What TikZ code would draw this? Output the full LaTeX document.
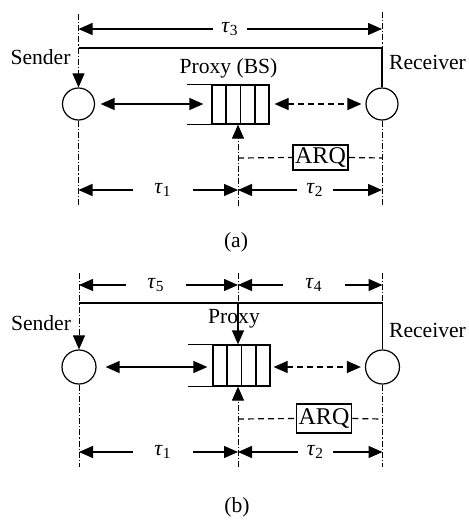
\documentclass[tikz,border=0pt]{standalone}
\usepackage{fontspec}
\setmainfont{Liberation Serif}
\usetikzlibrary{arrows.meta,calc}
\newcommand\tauv[1]{\textit{τ}\textsubscript{#1}}
\tikzset{
  guide/.style={line width=0.5pt, dash pattern=on 3pt off 1pt on 0.6pt off 1pt},
  ln/.style={line width=0.65pt},
  tip/.style={-{Triangle[length=7pt,width=6pt]}},
  dtip/.style={{Triangle[length=7pt,width=6pt]}-{Triangle[length=7pt,width=6pt]}},
  dsh/.style={line width=0.6pt, dash pattern=on 3pt off 2pt},
  station/.style={circle,draw,line width=0.6pt,minimum size=16pt,inner sep=0pt},
  qbox/.style={draw,line width=0.6pt,minimum width=28.5pt,inner sep=0pt},
  dimlab/.style={inner sep=0pt,font=\fontsize{11}{12}\selectfont},
  lab/.style={inner sep=0pt,font=\fontsize{10.8}{12}\selectfont},
  arqbox/.style={draw,line width=0.8pt,minimum width=27.5pt,inner sep=0pt,font=\fontsize{12}{13}\selectfont},
}
\begin{document}
\begin{tikzpicture}[x=0.5pt,y=-0.5pt]
\useasboundingbox (0,0) rectangle (468,520);
% ================= panel (a) =================
\coordinate (as) at (78.5,0);
\coordinate (am) at (238,0);
\coordinate (ar) at (382,0);
\coordinate (asTop) at (78.5,14);
\coordinate (arTop) at (382,12);
\coordinate (asH) at (78.5,48);
\coordinate (arH) at (382,48);
\coordinate (asB) at (78.5,206);
\coordinate (amB) at (238,206);
\coordinate (arB) at (382,206);
\coordinate (aJ) at (238,158);
\coordinate (aK) at (382,158);

\node[station] (S1) at (78.5,104) {};
\node[station] (R1) at (382,104) {};
\node[qbox,minimum height=19.5pt] (Q1) at (240.5,104.5) {};
\draw[ln] (Q1.north west) -- ++(-24,0);
\draw[ln] (Q1.south west) -- ++(-24,0);
\foreach \f in {0.25,0.5,0.75}{\draw[ln] ($(Q1.north west)!\f!(Q1.north east)$) -- ($(Q1.south west)!\f!(Q1.south east)$);}

\node[lab] (sendA) at (40.5,57) {Sender};
\node[lab] (recvA) at (427.5,62) {Receiver};
\node[lab] (proxA) at (228.5,68) {Proxy (BS)};

% guides
\draw[guide,tip] (asTop) -- (S1.north);
\draw[guide] (arTop) -- (arH);
\draw[ln] (arH) -- (R1.north);
\draw[ln] (asH) -- (arH);
\draw[guide] (S1.south) -- (asB);
\draw[guide] (R1.south) -- (arB);
\draw[guide,tip] (amB) -- (amB |- Q1.south);

% tau3
\node[dimlab,minimum width=17pt] (t3) at (230,29) {\tauv{3}};
\draw[ln,tip] (t3.west) -- (t3.west -| as);
\draw[ln,tip] (t3.east) -- (t3.east -| ar);

% links
\draw[ln,dtip,shorten <=2.75pt,shorten >=4pt] (S1.east) -- (S1.east -| Q1.west);
\draw[dsh,dtip,shorten <=2.5pt,shorten >=2pt] (Q1.east |- R1.west) -- (R1.west);

% ARQ
\node[arqbox,minimum height=12.5pt] (A1) at (320.5,157.5) {ARQ};
\draw[dsh] (aJ) -- (A1.west);
\draw[dsh] (A1.east) -- (aK);

% tau1, tau2
\node[dimlab,minimum width=30pt] (t1a) at (163,190) {\tauv{1}};
\draw[ln,tip] (t1a.west) -- (t1a.west -| as);
\draw[ln,tip] (t1a.east) -- (t1a.east -| am);
\node[dimlab,minimum width=18pt] (t2a) at (315,190) {\tauv{2}};
\draw[ln,tip] (t2a.west) -- (t2a.west -| am);
\draw[ln,tip] (t2a.east) -- (t2a.east -| ar);

\node[lab] (capa) at (236,242) {(a)};

% ================= panel (b) =================
\coordinate (bs) at (79,0);
\coordinate (bm) at (238,0);
\coordinate (br) at (382.5,0);
\coordinate (bsTop) at (79,273);
\coordinate (bmTop) at (238,273);
\coordinate (brTop) at (382.5,273);
\coordinate (bsH) at (79,303);
\coordinate (bmH) at (238,303);
\coordinate (brH) at (382.5,303);
\coordinate (bsB) at (79,467);
\coordinate (bmB) at (238,467);
\coordinate (brB) at (382.5,467);
\coordinate (bJ) at (238,419);
\coordinate (bK) at (382.5,419);

\node[station,minimum size=17pt] (S2) at (79,367) {};
\node[station,minimum size=17pt] (R2) at (382.5,367) {};
\node[qbox,minimum height=20.5pt] (Q2) at (241.5,365.5) {};
\draw[ln] (Q2.north west) -- ++(-24,0);
\draw[ln] (Q2.south west) -- ++(-24,0);
\foreach \f in {0.25,0.5,0.75}{\draw[ln] ($(Q2.north west)!\f!(Q2.north east)$) -- ($(Q2.south west)!\f!(Q2.south east)$);}

\node[lab] (sendB) at (41,323) {Sender};
\node[lab] (recvB) at (427.5,330) {Receiver};
\node[lab] (proxB) at (234,319) {Proxy};

\draw[guide,tip] (bsTop) -- (S2.north);
\draw[guide] (brTop) -- (brH);
\draw[ln] (brH) -- (R2.north);
\draw[guide] (bmTop) -- (bmH);
\draw[ln,tip] (bmH) -- (bmH |- Q2.north);
\draw[ln] (bsH) -- (brH);
\draw[guide] (S2.south) -- (bsB);
\draw[guide] (R2.south) -- (brB);
\draw[guide,tip] (bmB) -- (bmB |- Q2.south);

% tau5, tau4
\node[dimlab,minimum width=30pt] (t5) at (156,285) {\tauv{5}};
\draw[ln,tip] (t5.west) -- (t5.west -| bs);
\draw[ln,tip] (t5.east) -- (t5.east -| bm);
\node[dimlab,minimum width=31pt] (t4) at (314,285) {\tauv{4}};
\draw[ln,tip] (t4.west) -- (t4.west -| bm);
\draw[ln,tip] (t4.east) -- (t4.east -| br);

\draw[ln,dtip,shorten <=4.5pt,shorten >=2.5pt] (S2.east) -- (S2.east -| Q2.west);
\draw[dsh,dtip,shorten <=1.5pt,shorten >=2pt] (Q2.east |- R2.west) -- (R2.west);

\node[arqbox,minimum height=14.5pt] (A2) at (324,418.5) {ARQ};
\draw[dsh] (bJ) -- (A2.west);
\draw[dsh] (A2.east) -- (bK);

\node[dimlab,minimum width=30pt] (t1b) at (163,452) {\tauv{1}};
\draw[ln,tip] (t1b.west) -- (t1b.west -| bs);
\draw[ln,tip] (t1b.east) -- (t1b.east -| bm);
\node[dimlab,minimum width=17.5pt] (t2b) at (315.5,452) {\tauv{2}};
\draw[ln,tip] (t2b.west) -- (t2b.west -| bm);
\draw[ln,tip] (t2b.east) -- (t2b.east -| br);

\node[lab] (capb) at (237,507) {(b)};
\end{tikzpicture}
\end{document}
